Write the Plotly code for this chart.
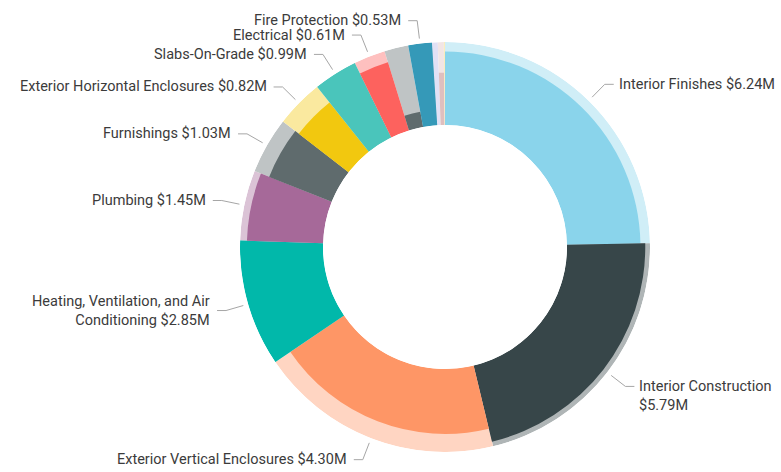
import math
import plotly.graph_objects as go

# ---------------- data ----------------
categories = [
    "Interior Finishes", "Interior Construction", "Exterior Vertical Enclosures",
    "Heating, Ventilation, and Air Conditioning", "Plumbing", "Furnishings",
    "Exterior Horizontal Enclosures", "Slabs-On-Grade", "Electrical",
    "Conveying", "Fire Protection", "Equipment", "Special Construction", "Site Work",
]
# total value per category ($M) -> slice angle
totals = [7.05, 6.14, 5.50, 2.85, 1.58, 1.27, 1.08, 0.99, 0.71, 0.54, 0.53, 0.13, 0.135, 0.025]
# highlighted value per category ($M) -> radial fill and data label
highlighted = [6.24, 5.79, 4.30, 2.85, 1.45, 1.03, 0.82, 0.99, 0.61, 0.10, 0.53, 0.0, 0.085, 0.0]
# whether the data label is displayed
label_shown = [True, True, True, True, True, True, True, True, True, False, True, False, False, False]
colors = ["#8AD4EB", "#374649", "#FE9666", "#01B8AA", "#A66999", "#5F6B6D", "#F2C80F",
          "#4AC5BB", "#FD625E", "#5F6B6D", "#3599B8", "#B3B3E6", "#DFBFBF", "#F4D25A"]

# ---------------- layout constants ----------------
W, H = 781, 472
CX, CY, R, R_IN = 445, 247, 205, 122
LIGHT_ALPHA = 0.4
FONT = "Roboto"
FSIZE = 14.5
TEXT_COLOR = "#3b3b3b"
LINE_COLOR = "#a6a6a6"
CHAR_W = 6.45


def lighten(hexc, a):
    h = hexc.lstrip("#")
    r, g, b = (int(h[i:i + 2], 16) for i in (0, 2, 4))
    f = lambda c: round(255 - a * (255 - c))
    return "#%02x%02x%02x" % (f(r), f(g), f(b))


total = sum(totals)
angles = [t / total * 360 for t in totals]
mids, start = [], 0.0
for a in angles:
    mids.append(start + a / 2)
    start += a
fracs = [h / t if t else 0 for h, t in zip(highlighted, totals)]

fig = go.Figure()
fig.add_trace(go.Barpolar(
    theta=mids, width=angles, r=[1] * len(totals), base=0,
    marker=dict(color=[lighten(c, LIGHT_ALPHA) for c in colors], line=dict(width=0)),
    hoverinfo="skip", showlegend=False))
fig.add_trace(go.Barpolar(
    theta=mids, width=angles, r=fracs, base=0,
    marker=dict(color=colors, line=dict(width=0)),
    text=categories, hoverinfo="text", showlegend=False))


def px2paper(x, y):
    return x / W, 1 - y / H


def wrap(text, maxw):
    words, lines, cur = text.split(" "), [], ""
    for w in words:
        cand = (cur + " " + w).strip()
        if len(cand) * CHAR_W <= maxw or not cur:
            cur = cand
        else:
            lines.append(cur)
            cur = w
    lines.append(cur)
    return lines


shapes, annotations = [], []
for name, hv, m, show in zip(categories, highlighted, mids, label_shown):
    if not show:
        continue
    th = math.radians(m)
    sx, sy = CX + (R + 5) * math.sin(th), CY - (R + 5) * math.cos(th)
    ex, ey = CX + (R + 23) * math.sin(th), CY - (R + 23) * math.cos(th)
    right = m < 180
    hx = ex + (9 if right else -9)
    tx = hx + (3 if right else -5)
    avail = (W - tx) if right else (tx - 2)
    lines = wrap(f"{name} ${hv:.2f}M", avail)
    pts = [px2paper(sx, sy), px2paper(ex, ey), px2paper(hx, ey)]
    path = "M {} {} L {} {} L {} {}".format(*[v for p in pts for v in p])
    shapes.append(dict(type="path", xref="paper", yref="paper", path=path,
                       line=dict(color=LINE_COLOR, width=1)))
    lh = 19
    ty = ey + ((len(lines) - 1) * lh / 2 if right else 0)
    ax, ay = px2paper(tx, ty)
    annotations.append(dict(
        x=ax, y=ay, xref="paper", yref="paper", showarrow=False,
        text="<br>".join(lines), xanchor="left" if right else "right", yanchor="middle",
        align="left" if right else "right",
        font=dict(family=FONT, size=FSIZE, color=TEXT_COLOR)))

x0, y0 = px2paper(CX - R, CY + R)
x1, y1 = px2paper(CX + R, CY - R)
fig.update_layout(
    width=W, height=H, margin=dict(l=0, r=0, t=0, b=0),
    paper_bgcolor="white", plot_bgcolor="white",
    polar=dict(
        domain=dict(x=[x0, x1], y=[y0, y1]),
        hole=R_IN / R, bgcolor="white",
        radialaxis=dict(range=[0, 1], visible=False),
        angularaxis=dict(rotation=90, direction="clockwise", visible=False),
    ),
    shapes=shapes, annotations=annotations,
    font=dict(family=FONT, size=FSIZE, color=TEXT_COLOR),
)
fig.write_html("out.html", config={"displayModeBar": False},
               post_script="document.body.style.margin='0';")
